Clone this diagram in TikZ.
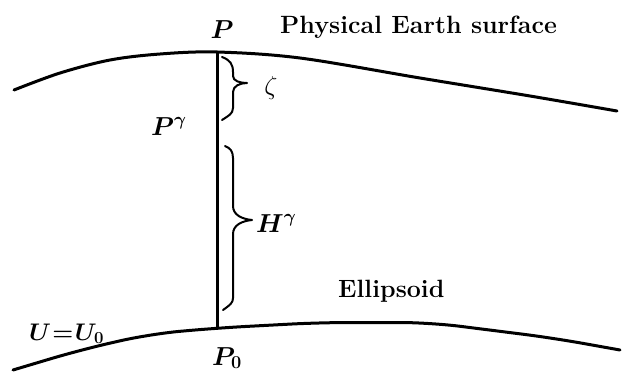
\RequirePackage{fix-cm}
\documentclass[tikz,border=0pt]{standalone}
\usepackage{amsmath,bm}
\begin{document}
\begin{tikzpicture}[x=1pt,y=-1pt,
  surf/.style={line width=3pt,line cap=round,line join=round},
  brc/.style={line width=2pt,line cap=round,line join=round},
  lbl/.style={inner sep=0pt,anchor=base west,font=\fontsize{25}{28}\selectfont\bfseries},
  sym/.style={inner sep=0pt,font=\fontsize{26}{30}\selectfont}]
\useasboundingbox (0,0) rectangle (622,373);
% physical surface
\draw[surf] plot[smooth,tension=0.55] coordinates{(14,90) (60,73) (110,60) (160,54) (217,52) (300,58) (420,78) (530,96) (617,111)};
% ellipsoid
\draw[surf,rounded corners=30pt] (13,370) -- (80,350) -- (150,334) -- (217,328) -- (320,322.5) -- (430,322.5) -- (553,338) -- (620,350);
\coordinate (Ptop) at (217,52);
\coordinate (Pbot) at (217,328);
\draw[surf] (Ptop) -- (Pbot);
% zeta brace
\coordinate (z1) at (222,57);
\coordinate (ztip) at (247,83);
\coordinate (z2) at (222,120);
\draw[brc] (z1) .. controls (230,60) and (233,64) .. (233,72) -- (233,76) .. controls (233,81) and (240,83) .. (ztip)
  .. controls (240,83) and (233,86) .. (233,92) -- (233,108) .. controls (233,114) and (228,116) .. (z2);
% H brace
\coordinate (h1) at (225,146);
\coordinate (htip) at (252,220);
\coordinate (h2) at (223,310);
\draw[brc] (h1) .. controls (230,148) and (233,151) .. (233,158) -- (233,206) .. controls (233,215) and (242,219) .. (htip)
  .. controls (242,221) and (233,225) .. (233,234) -- (233,298) .. controls (233,303) and (230,305) .. (h2);
% labels
\node[sym,anchor=base] (P) at (222,38) {$\bm{P}$};
\node[sym,anchor=base west] (Pg) at (151,135) {$\bm{P}^{\bm{\gamma}}$};
\node[sym] (zeta) at (271,88) {$\zeta$};
\node[sym,anchor=base west] (Hg) at (256,232) {$\bm{H}^{\bm{\gamma}}$};
\node[sym,anchor=base west,font=\fontsize{24}{28}\selectfont] (U) at (29,340) {$\bm{U}\mkern-4mu\bm{=}\mkern-4mu\bm{U}_{\mathbf{0}}$};
\node[sym,anchor=base west] (P0) at (212,365) {$\bm{P}_{\mathbf{0}}$};
\node[lbl] (phys) at (280,33) {Physical Earth surface};
\node[lbl] (ell) at (338,297) {Ellipsoid};
\end{tikzpicture}
\end{document}
